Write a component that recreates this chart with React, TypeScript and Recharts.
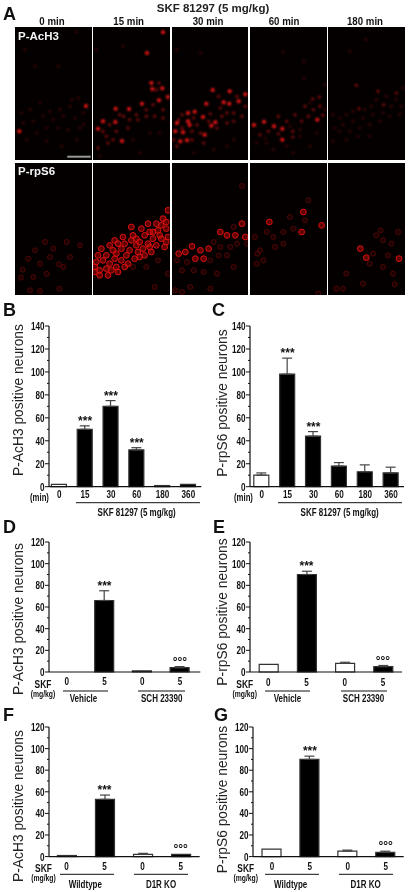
import React from "react";
import { ComposedChart, Bar, Cell, ErrorBar, Line, LabelList, XAxis, YAxis, ScatterChart, Scatter } from "recharts";

const SANS = "'Liberation Sans',Arial,sans-serif";

// ---------- micrograph spots, in 3x picture units ----------
const tileColumns = [[45, 275], [280, 510], [515, 745], [750, 980], [985, 1215]];
const timeLabels = ["0 min", "15 min", "30 min", "60 min", "180 min"];
const timeLabelCentres = [52, 128.7, 208, 284, 365];

const acBright = [
  [[258, 319], [58, 395]],
  [[490, 98], [442, 160], [310, 365], [295, 387], [478, 302], [388, 328], [348, 327], [347, 367], [427, 312], [505, 292], [367, 424], [458, 268], [488, 266], [455, 250]],
  [[637, 271], [688, 275], [735, 284], [715, 305], [687, 312], [618, 312], [583, 336], [563, 340], [608, 352], [563, 365], [568, 376], [540, 425], [560, 422], [633, 378], [613, 405], [530, 370], [548, 398], [645, 368], [670, 308], [525, 395]],
  [[762, 376], [822, 380], [847, 387], [847, 420], [952, 360], [792, 366]],
  [],
];
const acMedium = [
  [],
  [[372, 350], [415, 360], [440, 350], [465, 350], [490, 355], [390, 360], [330, 375], [320, 410], [340, 420], [460, 315], [490, 330], [440, 330], [410, 345], [295, 445], [310, 395], [470, 270], [478, 250], [350, 395], [385, 385], [325, 430], [360, 345]],
  [[630, 342], [660, 325], [700, 340], [680, 340], [735, 320], [710, 290], [655, 290], [590, 375], [600, 400], [575, 395], [545, 385], [650, 385], [625, 365], [580, 355], [700, 365], [680, 370], [535, 360], [665, 350], [545, 345], [575, 420], [520, 420], [725, 350], [530, 440], [610, 430]],
  [[835, 402], [878, 395], [878, 412], [968, 347], [958, 292], [938, 298], [860, 365], [885, 345], [905, 365], [925, 350], [835, 350], [940, 330], [915, 320], [960, 320], [805, 395], [780, 405]],
  [[1078, 327], [1152, 315], [1070, 257], [1135, 275], [1190, 280]],
];
const acDim = [
  [[230, 97], [175, 200], [75, 150], [105, 200], [120, 310], [90, 330], [150, 335], [180, 330], [210, 320], [235, 295], [215, 300], [130, 350], [160, 360], [190, 350], [225, 355], [250, 340], [100, 365], [70, 370], [140, 385], [175, 385], [205, 390], [240, 385], [110, 400], [80, 420], [140, 425], [185, 440], [230, 420], [65, 340], [250, 375]],
  [[290, 150], [370, 140], [300, 470], [450, 400], [400, 420], [480, 400], [420, 460]],
  [[530, 150], [600, 160], [640, 450], [700, 420], [580, 460], [680, 440]],
  [[975, 255], [912, 237], [850, 157], [912, 185], [770, 430], [800, 430], [860, 440], [900, 410], [950, 400], [930, 440], [880, 460], [820, 450], [975, 330], [930, 310], [900, 390], [870, 380], [795, 415]],
  [[1000, 345], [1020, 355], [1040, 345], [1060, 335], [1095, 330], [1115, 320], [1130, 300], [1160, 290], [1190, 300], [1205, 320], [1175, 320], [1150, 340], [1120, 345], [1090, 355], [1060, 365], [1030, 375], [1005, 385], [1020, 395], [1050, 395], [1080, 385], [1110, 375], [1140, 365], [1170, 350], [1200, 345], [1000, 425], [1040, 420], [1075, 410], [1110, 410], [1050, 155], [1098, 120], [1210, 265]],
];
const rpBright = [
  [],
  [[290, 305], [310, 300], [330, 310], [350, 320], [300, 330], [320, 325], [345, 295], [365, 300], [385, 310], [405, 295], [340, 270], [305, 265], [365, 265], [390, 270], [415, 275], [435, 285], [455, 275], [370, 230], [395, 240], [420, 245], [445, 250], [470, 255], [495, 260], [425, 205], [450, 215], [475, 210], [500, 205], [490, 175], [505, 150], [470, 190], [445, 190], [395, 200], [355, 250], [330, 255], [285, 335], [300, 345], [325, 345], [355, 335], [380, 285], [410, 255], [435, 225], [460, 235], [485, 235], [505, 230], [345, 240], [320, 285], [295, 285], [375, 250], [400, 225], [410, 235], [430, 265], [460, 215], [485, 195], [500, 185], [350, 280], [335, 330], [285, 320], [375, 320], [420, 290], [450, 260], [480, 225], [500, 245]],
  [[535, 280], [555, 275], [575, 258], [600, 270], [625, 265], [660, 215], [680, 225], [705, 225], [735, 230], [725, 190], [610, 295], [585, 295]],
  [[808, 185], [910, 155], [905, 215], [965, 195]],
  [[1198, 295], [1082, 265], [1100, 292]],
];
const rpDim = [
  [[68, 328], [63, 352], [177, 312], [120, 392], [178, 385], [135, 245], [105, 270], [85, 295], [150, 290], [200, 245], [240, 255], [210, 290], [160, 265], [120, 310], [190, 320], [100, 350], [140, 340], [90, 390]],
  [[440, 320], [465, 380], [505, 340], [400, 320], [475, 300]],
  [[560, 305], [530, 300], [545, 330], [630, 300], [700, 200], [740, 250], [690, 260], [660, 260], [640, 245], [655, 285], [680, 285], [710, 250], [725, 77], [630, 385], [570, 380], [525, 390], [545, 395], [580, 330], [610, 335], [650, 340], [700, 320]],
  [[870, 170], [925, 120], [772, 280], [770, 310], [790, 300], [825, 260], [880, 205], [820, 230], [850, 215], [850, 250], [800, 215], [780, 270], [955, 400], [765, 230], [915, 180]],
  [[1185, 372], [1143, 210], [1195, 215], [1150, 240], [1130, 225], [1175, 250], [1110, 310], [1150, 320], [1040, 340], [1030, 385], [1090, 370], [1010, 385], [1180, 340], [1120, 280], [1165, 285]],
];

// ---------- bar panels ----------
const minCats = ["0", "15", "30", "60", "180", "360"];
const doseCats = ["0", "5", "0", "5"];

const bValues = [2, 50, 70, 32, 1, 2];
const bErrors = [null, 3, 5, 2, null, null];
const bFills = ["#fff", "#000", "#000", "#000", "#000", "#000"];
const bMarks = [null, "***", "***", "***", null, null];

const cValues = [10, 98, 44, 18, 13, 12];
const cErrors = [2, 14, 4, 3, 6, 5];
const cFills = ["#fff", "#000", "#000", "#000", "#000", "#000"];
const cMarks = [null, "***", "***", null, null, null];

const dValues = [0, 66, 1, 4];
const dErrors = [null, 9, null, 1];
const dFills = ["#fff", "#000", "#000", "#000"];
const dMarks = [null, "***", null, "°°°"];

const eValues = [7, 90, 8, 5];
const eErrors = [null, 3, 1, 1];
const eFills = ["#fff", "#000", "#fff", "#000"];
const eMarks = [null, "***", null, "°°°"];

const fValues = [1, 53, 2, 2];
const fErrors = [null, 4, 1, null];
const fFills = ["#000", "#000", "#fff", "#000"];
const fMarks = [null, "***", null, "°°°"];

const gValues = [7, 90, 5, 4];
const gErrors = [null, 3, 1, 1];
const gFills = ["#fff", "#000", "#fff", "#000"];
const gMarks = [null, "***", null, "°°°"];

const ticks140 = [0, 10, 20, 30, 40, 50, 60, 70, 80, 90, 100, 110, 120, 130, 140];
const ticks120 = [0, 10, 20, 30, 40, 50, 60, 70, 80, 90, 100, 110, 120];

// Arial squeezed horizontally: the narrow face of the reference is not installed.
const Squeezed = ({ x, y, sx = 0.74, size = 11, anchor = "middle", weight = "bold", fill = "#111", children }: any) => (
  <text transform={`translate(${x},${y}) scale(${sx},1)`} textAnchor={anchor} fontFamily={SANS} fontWeight={weight} fontSize={size} fill={fill}>
    {children}
  </text>
);

const YTick = (p: any) => {
  const major = p.payload.value % 20 === 0;
  return (
    <g>
      <line x1={p.x} x2={p.x - (major ? 4 : 2)} y1={p.y} y2={p.y} stroke="#111" strokeWidth={1} />
      {major && <Squeezed x={p.x - 4.5} y={p.y + 4} anchor="end">{p.payload.value}</Squeezed>}
    </g>
  );
};
const XTick = (p: any) => <Squeezed x={p.x} y={p.y + 7.5}>{p.payload.value}</Squeezed>;

function Panel(props: any) {
  const { axisX, top, bottom, end, cats, values, errors, fills, marks, max, ticks, padL, padR, barW, tickMargin } = props;
  const leftRoom = 40;
  const topRoom = 6;
  const bottomRoom = 20;
  const width = end - axisX + leftRoom + 2;
  const height = bottom - top + topRoom + bottomRoom;
  const data = cats.map((cat: string, i: number) => ({
    cat,
    value: values[i],
    err: errors[i] == null ? null : [0, errors[i]],
    mark: marks[i],
    markY: marks[i] ? values[i] + (errors[i] || 0) : null,
  }));
  return (
    <div style={{ position: "absolute", left: axisX - leftRoom, top: top - topRoom }}>
      <ComposedChart width={width} height={height} data={data} margin={{ left: 0, right: 2, top: topRoom, bottom: 0 }}>
        <XAxis dataKey="cat" interval={0} height={bottomRoom} padding={{ left: padL, right: padR }} axisLine={{ stroke: "#111", strokeWidth: 1.2 }} tickLine={false} tickSize={0} tickMargin={tickMargin} tick={XTick} />
        <YAxis width={leftRoom} domain={[0, max]} ticks={ticks} interval={0} tickSize={0} tickMargin={0} tickLine={false} axisLine={{ stroke: "#111", strokeWidth: 1.2 }} tick={YTick} />
        <Bar dataKey="value" barSize={barW} isAnimationActive={false} stroke="#333" strokeWidth={1.2}>
          {data.map((_: any, i: number) => <Cell key={i} fill={fills[i]} />)}
          <ErrorBar dataKey="err" direction="y" width={5} stroke="#444" strokeWidth={1.2} isAnimationActive={false} />
        </Bar>
        <Line dataKey="markY" stroke="none" dot={false} activeDot={false} isAnimationActive={false} connectNulls={false}>
          <LabelList dataKey="mark" position="top" offset={1} fontFamily={SANS} fontWeight="bold" fontSize={12} fill="#111" />
        </Line>
      </ComposedChart>
    </div>
  );
}

const spot = (r: number, fill: string, stroke: string, sw: number) => (p: any) => (
  <circle cx={p.cx} cy={p.cy} r={r} fill={fill} stroke={stroke} strokeWidth={sw} />
);
const toXY = (a: number[][]) => a.map(([x, y]) => ({ x, y }));

function Tile({ col, top, yDomain, layers, blur }: any) {
  const [x0, x1] = tileColumns[col];
  const w = (x1 - x0) / 3;
  const h = (yDomain[1] - yDomain[0]) / 3;
  return (
    <div style={{ position: "absolute", left: x0 / 3, top, width: w, height: h, background: "#050000", overflow: "hidden" }}>
      <div style={{ filter: `blur(${blur}px)` }}>
        <ScatterChart width={w} height={h} margin={{ left: 0, right: 0, top: 0, bottom: 0 }}>
          <XAxis type="number" dataKey="x" hide domain={[x0, x1]} allowDataOverflow />
          <YAxis type="number" dataKey="y" hide reversed domain={yDomain} allowDataOverflow width={0} />
          {layers.map((l: any, i: number) => (
            <Scatter key={i} data={toXY(l.data)} isAnimationActive={false} shape={l.shape} />
          ))}
        </ScatterChart>
      </div>
    </div>
  );
}

const acDimShape = spot(1.3, "#4a0606", "none", 0);
const acMedShape = spot(1.5, "#8c0d0d", "none", 0);
const acBrightShape = spot(2, "#f01616", "none", 0);
const rpDimShape = spot(2.5, "rgba(110,6,6,0.2)", "#5e0808", 0.8);
const rpBrightShape = spot(2.9, "rgba(210,6,6,0.45)", "#d81010", 1);

const yLabels = [
  { text: "P-AcH3 positive neurons", x: 23, y: 400 },
  { text: "P-rpS6 positive neurons", x: 227, y: 403 },
  { text: "P-AcH3 positive neurons", x: 23, y: 619 },
  { text: "P-rpS6 positive neurons", x: 227, y: 612 },
  { text: "P-AcH3 positive neurons", x: 23, y: 806 },
  { text: "P-rpS6 positive neurons", x: 227, y: 799.5 },
];
const letters = [
  { t: "A", x: 3, y: 20 }, { t: "B", x: 3, y: 316 }, { t: "C", x: 212, y: 316 },
  { t: "D", x: 3, y: 533 }, { t: "E", x: 213, y: 533 }, { t: "F", x: 3, y: 721 }, { t: "G", x: 214, y: 721 },
];
const groupLines = [
  [76, 200, 502.7], [278, 402, 502.7],
  [63, 108, 691], [138, 185, 691], [265, 310, 691], [341, 387, 691],
  [60, 114, 874.3], [134, 188, 874.3], [265, 319, 874.3], [339, 393, 874.3],
];
const groupLabels = [
  { t: "SKF 81297 (5 mg/kg)", x: 136.7, y: 516 }, { t: "SKF 81297 (5 mg/kg)", x: 339.7, y: 516 },
  { t: "Vehicle", x: 83.5, y: 702 }, { t: "SCH 23390", x: 161.7, y: 702 },
  { t: "Vehicle", x: 287.5, y: 702 }, { t: "SCH 23390", x: 363.5, y: 702 },
  { t: "Wildtype", x: 85.3, y: 888 }, { t: "D1R KO", x: 161, y: 888 },
  { t: "Wildtype", x: 290.7, y: 888 }, { t: "D1R KO", x: 365.7, y: 888 },
];
const skfLabels = [
  { x: 43, y: 688 }, { x: 244.7, y: 688 }, { x: 43.5, y: 872 }, { x: 245.7, y: 872 },
];

function Overlay() {
  return (
    <svg width={408} height={892} style={{ position: "absolute", left: 0, top: 0, pointerEvents: "none" }}>
      <text x={213} y={12} textAnchor="middle" fontFamily={SANS} fontWeight="bold" fontSize={11.5} fill="#222">SKF 81297 (5 mg/kg)</text>
      {timeLabels.map((t, i) => (
        <Squeezed key={t} x={timeLabelCentres[i]} y={25} size={11} sx={0.88}>{t}</Squeezed>
      ))}
      <text x={18} y={40} fontFamily={SANS} fontWeight="bold" fontSize={11.5} fill="#f4f4f4">P-AcH3</text>
      <text x={18} y={175} fontFamily={SANS} fontWeight="bold" fontSize={11.5} fill="#f4f4f4">P-rpS6</text>
      <line x1={67.3} x2={90.7} y1={156.7} y2={156.7} stroke="#9a9a9a" strokeWidth={2} />
      {letters.map((l) => (
        <text key={l.t} x={l.x} y={l.y} fontFamily={SANS} fontWeight="bold" fontSize={18} fill="#111">{l.t}</text>
      ))}
      {yLabels.map((l, i) => (
        <text key={i} transform={`translate(${l.x},${l.y}) rotate(-90)`} textAnchor="middle" fontFamily={SANS} fontSize={13.8} fill="#222">{l.text}</text>
      ))}
      <Squeezed x={30} y={501} size={10.5} anchor="start">(min)</Squeezed>
      <Squeezed x={234} y={501} size={10.5} anchor="start">(min)</Squeezed>
      {groupLines.map(([a, b, y], i) => <line key={i} x1={a} x2={b} y1={y} y2={y} stroke="#111" strokeWidth={1} />)}
      {groupLabels.map((l, i) => (
        <Squeezed key={i} x={l.x} y={l.y} size={10} sx={0.8}>{l.t}</Squeezed>
      ))}
      {skfLabels.map((l, i) => (
        <g key={i}>
          <Squeezed x={l.x} y={l.y} size={10.5} sx={0.8}>SKF</Squeezed>
          <Squeezed x={l.x} y={l.y + 8.5} size={8.5} sx={0.8}>(mg/kg)</Squeezed>
        </g>
      ))}
    </svg>
  );
}

export default function App() {
  return (
    <div style={{ position: "absolute", left: 0, top: 0, width: 408, height: 892, background: "#fff", overflow: "hidden", filter: "blur(0.4px)" }}>
      {tileColumns.map((_, i) => (
        <Tile key={"a" + i} col={i} top={27.3} blur={0.8} yDomain={[82, 480]} layers={[
          { data: acDim[i], shape: acDimShape }, { data: acMedium[i], shape: acMedShape }, { data: acBright[i], shape: acBrightShape },
        ]} />
      ))}
      {tileColumns.map((_, i) => (
        <Tile key={"r" + i} col={i} top={162.7} blur={0.65} yDomain={[8, 405]} layers={[
          { data: rpDim[i], shape: rpDimShape }, { data: rpBright[i], shape: rpBrightShape },
        ]} />
      ))}
      <Panel axisX={48.7} top={326} bottom={486.7} end={201} cats={minCats} values={bValues} errors={bErrors} fills={bFills} marks={bMarks} max={140} ticks={ticks140} padL={-2.6} padR={0} barW={15} tickMargin={4} />
      <Panel axisX={250} top={326} bottom={486.7} end={404} cats={minCats} values={cValues} errors={cErrors} fills={cFills} marks={cMarks} max={140} ticks={ticks140} padL={-1.2} padR={0} barW={15} tickMargin={4} />
      <Panel axisX={48.7} top={542.3} bottom={672.3} end={200} cats={doseCats} values={dValues} errors={dErrors} fills={dFills} marks={dMarks} max={120} ticks={ticks120} padL={-1} padR={1.5} barW={19} tickMargin={6} />
      <Panel axisX={250} top={542.3} bottom={672.3} end={402} cats={doseCats} values={eValues} errors={eErrors} fills={eFills} marks={eMarks} max={120} ticks={ticks120} padL={-0.8} padR={0} barW={19} tickMargin={6} />
      <Panel axisX={49.3} top={726.7} bottom={856.3} end={200} cats={doseCats} values={fValues} errors={fErrors} fills={fFills} marks={fMarks} max={120} ticks={ticks120} padL={-1.6} padR={0} barW={19} tickMargin={6} />
      <Panel axisX={253.3} top={726.7} bottom={856.3} end={404} cats={doseCats} values={gValues} errors={gErrors} fills={gFills} marks={gMarks} max={120} ticks={ticks120} padL={0} padR={-1} barW={19} tickMargin={6} />
      <Overlay />
    </div>
  );
}
